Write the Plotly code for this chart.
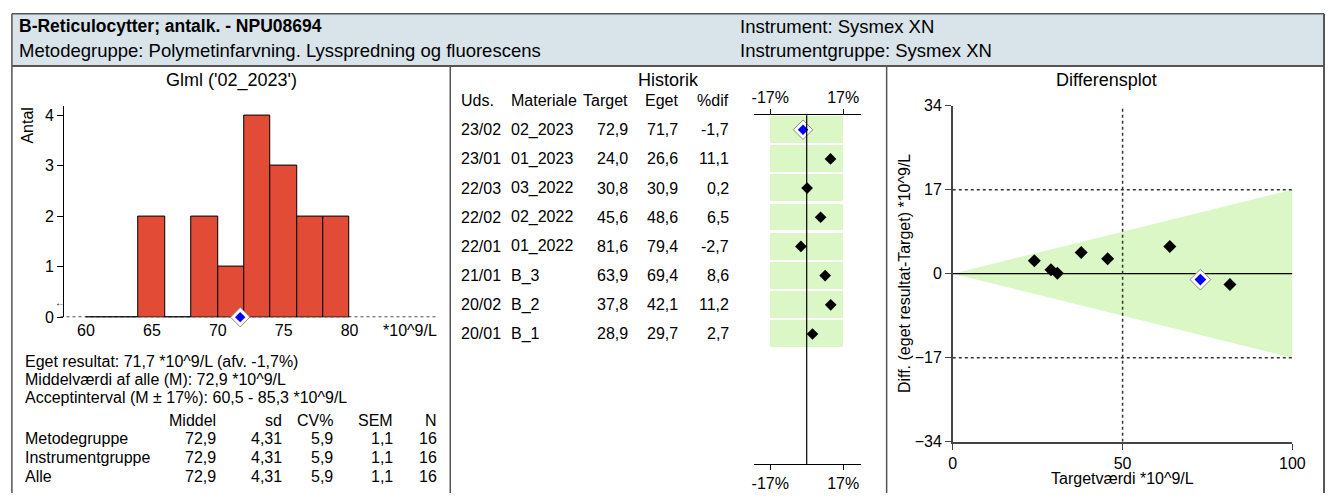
import plotly.graph_objects as go

W, H = 1338, 502
def px(x): return x / W
def py(y): return 1 - y / H

FONT = "Liberation Sans, Arial, sans-serif"

# ---------------- data ----------------
header_title = "B-Reticulocytter; antalk. - NPU08694"
header_method = "Metodegruppe: Polymetinfarvning. Lysspredning og fluorescens"
header_instr = "Instrument: Sysmex XN"
header_instr_group = "Instrumentgruppe: Sysmex XN"

hist_title = "Glml ('02_2023')"
hist_bin_start = [60, 62, 64, 66, 68, 70, 72, 74, 76, 78]
hist_bin_width = 2
hist_counts = [0, 0, 2, 0, 2, 1, 4, 3, 2, 2]
hist_xticks = [60, 65, 70, 75, 80]
hist_yticks = [0, 1, 2, 3, 4]
own_result = 71.7
group_mean = 72.9
limit_pct = 17
unit = "*10^9/L"

info_lines = [
    "Eget resultat: 71,7 *10^9/L (afv. -1,7%)",
    "Middelværdi af alle (M): 72,9 *10^9/L",
    "Acceptinterval (M ± 17%): 60,5 - 85,3 *10^9/L",
]
stats_header = ["Middel", "sd", "CV%", "SEM", "N"]
stats_groups = ["Metodegruppe", "Instrumentgruppe", "Alle"]
stats_mean = [72.9, 72.9, 72.9]
stats_sd = [4.31, 4.31, 4.31]
stats_cv = [5.9, 5.9, 5.9]
stats_sem = [1.1, 1.1, 1.1]
stats_n = [16, 16, 16]

histo_header = ["Uds.", "Materiale", "Target", "Eget", "%dif"]
histo_uds = ["23/02", "23/01", "22/03", "22/02", "22/01", "21/01", "20/02", "20/01"]
histo_mat = ["02_2023", "01_2023", "03_2022", "02_2022", "01_2022", "B_3", "B_2", "B_1"]
histo_target = [72.9, 24.0, 30.8, 45.6, 81.6, 63.9, 37.8, 28.9]
histo_eget = [71.7, 26.6, 30.9, 48.6, 79.4, 69.4, 42.1, 29.7]
histo_pdif = [-1.7, 11.1, 0.2, 6.5, -2.7, 8.6, 11.2, 2.7]

diff_xticks = [0, 50, 100]
diff_yticks = [-34, -17, 0, 17, 34]
diff_xmax = 100
diff_ymax = 34

# ---------------- helpers ----------------
def fmt(v, d=1):
    return f"{v:.{d}f}".replace(".", ",")

RED = "#E24B36"
GREEN = "#DAF7C5"
BORDER = "#555555"

fig = go.Figure()

# ---------------- histogram ----------------
centers = [s + hist_bin_width / 2 for s in hist_bin_start]
fig.add_trace(go.Bar(x=centers, y=hist_counts, width=hist_bin_width,
                     marker=dict(color=RED, line=dict(color="black", width=1)),
                     xaxis="x", yaxis="y", hoverinfo="skip"))
fig.add_trace(go.Scatter(x=[group_mean], y=[4.21], mode="markers+text", text=["M"],
                         textposition="middle center",
                         textfont=dict(size=11, family=FONT, color="black"),
                         marker=dict(symbol="circle-open", size=15,
                                     line=dict(color="black", width=1), color="black"),
                         xaxis="x", yaxis="y", cliponaxis=False, hoverinfo="skip"))
fig.add_trace(go.Scatter(x=[own_result], y=[0], mode="markers",
                         marker=dict(symbol="diamond", size=15, color="white",
                                     line=dict(color="#888888", width=1)),
                         xaxis="x", yaxis="y", cliponaxis=False, hoverinfo="skip"))
fig.add_trace(go.Scatter(x=[own_result], y=[0], mode="markers",
                         marker=dict(symbol="diamond", size=8, color="#0000FF",
                                     line=dict(width=0)),
                         xaxis="x", yaxis="y", cliponaxis=False, hoverinfo="skip"))

# ---------------- forest (Historik) ----------------
rows = list(range(len(histo_uds)))
fig.add_trace(go.Bar(y=rows, x=[2 * limit_pct] * len(rows), base=[-limit_pct] * len(rows),
                     orientation="h", width=0.92, marker=dict(color=GREEN, line=dict(width=0)),
                     xaxis="x2", yaxis="y2", hoverinfo="skip"))
fig.add_trace(go.Scatter(x=histo_pdif[1:], y=rows[1:], mode="markers",
                         marker=dict(symbol="diamond", size=9, color="black"),
                         xaxis="x2", yaxis="y2", hoverinfo="skip"))
fig.add_trace(go.Scatter(x=histo_pdif[:1], y=rows[:1], mode="markers",
                         marker=dict(symbol="diamond", size=15, color="white",
                                     line=dict(color="#888888", width=1)),
                         xaxis="x2", yaxis="y2", hoverinfo="skip"))
fig.add_trace(go.Scatter(x=histo_pdif[:1], y=rows[:1], mode="markers",
                         marker=dict(symbol="diamond", size=8, color="#0000FF"),
                         xaxis="x2", yaxis="y2", hoverinfo="skip"))
fig.add_trace(go.Scatter(x=histo_pdif[:1], y=rows[:1], mode="markers",
                         marker=dict(opacity=0), xaxis="x4", yaxis="y2",
                         hoverinfo="skip", showlegend=False))

# ---------------- difference plot ----------------
lim_y = diff_xmax * limit_pct / 100
fig.add_trace(go.Scatter(x=[0, diff_xmax, diff_xmax, 0], y=[0, lim_y, -lim_y, 0],
                         fill="toself", fillcolor=GREEN, mode="lines",
                         line=dict(width=0, color=GREEN),
                         xaxis="x3", yaxis="y3", hoverinfo="skip"))
fig.add_trace(go.Scatter(x=[0, diff_xmax], y=[0, 0], mode="lines",
                         line=dict(color="black", width=1.3),
                         xaxis="x3", yaxis="y3", hoverinfo="skip"))
diffs = [e - t for e, t in zip(histo_eget, histo_target)]
fig.add_trace(go.Scatter(x=histo_target[1:], y=diffs[1:], mode="markers",
                         marker=dict(symbol="diamond", size=10, color="black"),
                         xaxis="x3", yaxis="y3", hoverinfo="skip"))
fig.add_trace(go.Scatter(x=histo_target[:1], y=diffs[:1], mode="markers",
                         marker=dict(symbol="diamond", size=16, color="white",
                                     line=dict(color="#888888", width=1)),
                         xaxis="x3", yaxis="y3", hoverinfo="skip"))
fig.add_trace(go.Scatter(x=histo_target[:1], y=diffs[:1], mode="markers",
                         marker=dict(symbol="diamond", size=9, color="#0000FF"),
                         xaxis="x3", yaxis="y3", hoverinfo="skip"))

# ---------------- shapes ----------------
shapes = []
shapes.append(dict(type="rect", xref="paper", yref="paper", x0=px(8), x1=px(1337),
                   y0=py(60), y1=py(6), fillcolor="#D8E4EA", line=dict(width=0), layer="below"))
def pline(x0, y0, x1, y1, w=1.5, color=BORDER):
    shapes.append(dict(type="line", xref="paper", yref="paper", x0=px(x0), x1=px(x1),
                       y0=py(y0), y1=py(y1), line=dict(color=color, width=w)))
pline(8, 6, 1337, 6)
pline(8, 60, 1337, 60, w=2)
pline(8, 6, 8, 502)
pline(1337, 6, 1337, 502, w=2)
pline(452, 60, 452, 502)
pline(894, 60, 894, 502)

shapes.append(dict(type="line", xref="x domain", yref="y", x0=-0.01, x1=1, y0=0, y1=0,
                   line=dict(color="black", width=1.3, dash="dot"), layer="below"))
shapes.append(dict(type="line", xref="x", yref="y", x0=hist_bin_start[0],
                   x1=hist_bin_start[-1] + hist_bin_width, y0=0, y1=0,
                   line=dict(color="black", width=1.3), layer="below"))

shapes.append(dict(type="line", xref="x2", yref="y2 domain", x0=0, x1=0, y0=0, y1=1,
                   line=dict(color="black", width=1.2), layer="above"))

for yv in (lim_y, -lim_y):
    shapes.append(dict(type="line", xref="x3", yref="y3", x0=0, x1=diff_xmax, y0=yv, y1=yv,
                       line=dict(color="#333333", width=1.5, dash="dot"), layer="above"))
shapes.append(dict(type="line", xref="x3", yref="y3", x0=diff_xmax / 2, x1=diff_xmax / 2,
                   y0=-diff_ymax, y1=diff_ymax,
                   line=dict(color="#333333", width=1.5, dash="dot"), layer="above"))

# ---------------- annotations ----------------
ann = []
def text(x, y, s, size=16, anchor="left", bold=False, xref="paper", yref="paper", **kw):
    ann.append(dict(x=x if xref != "paper" else px(x),
                    y=y if yref != "paper" else py(y),
                    xref=xref, yref=yref, text=f"<b>{s}</b>" if bold else s,
                    showarrow=False, xanchor=anchor, yanchor="middle",
                    font=dict(size=size, family=FONT, color="black"), **kw))

text(13, 19, header_title, size=17.5, bold=True)
text(13, 44, header_method, size=18.5)
text(743, 19, header_instr, size=18.5)
text(743, 44, header_instr_group, size=18.5)

text(230, 75, hist_title, size=18, anchor="center")
text(24, 122, "Antal", size=16, anchor="center", textangle=-90)
text(441, 334, unit, size=16, anchor="right")
text(57, 305, "←", size=10, anchor="center")

for i, line in enumerate(info_lines):
    text(19, 366 + i * 18.6, line, size=16)
stat_cols = [217, 284, 335, 396, 441]
for x, h in zip(stat_cols, stats_header):
    text(x, 427, h, size=16, anchor="right")
for r, g in enumerate(stats_groups):
    yy = 446 + r * 19.5
    text(19, yy, g, size=16)
    vals = [fmt(stats_mean[r]), fmt(stats_sd[r], 2), fmt(stats_cv[r]), fmt(stats_sem[r]),
            str(stats_n[r])]
    for x, v in zip(stat_cols, vals):
        text(x, yy, v, size=16, anchor="right")

text(673, 75, "Historik", size=18, anchor="center")
hx = [(461, "left"), (511, "left"), (634, "right"), (685, "right"), (736, "right")]
for (x, a), h in zip(hx, histo_header):
    text(x, 96, h, size=16, anchor=a)
for i in rows:
    vals = [histo_uds[i], histo_mat[i], fmt(histo_target[i]), fmt(histo_eget[i]),
            fmt(histo_pdif[i])]
    for (x, a), v in zip(hx, vals):
        text(x, i, v, size=16, anchor=a, yref="y2")

text(1117, 75, "Differensplot", size=18, anchor="center")
text(1133, 487, "Targetværdi " + unit, size=16, anchor="center")
text(912, 275, "Diff. (eget resultat-Target) " + unit, size=16, anchor="center", textangle=-90)

# ---------------- layout ----------------
tickfont = dict(size=16, family=FONT, color="black")
fig.update_layout(
    width=W, height=H, margin=dict(l=0, r=0, t=0, b=0),
    paper_bgcolor="white", plot_bgcolor="rgba(0,0,0,0)",
    showlegend=False, bargap=0, barmode="overlay",
    font=dict(family=FONT, size=16, color="black"),
    shapes=shapes, annotations=ann,
    xaxis=dict(domain=[px(61), px(440)], range=[58.35, 86.74], tickvals=hist_xticks,
               showline=False, ticks="", showgrid=False, zeroline=False, tickfont=tickfont,
               anchor="y", ticklabelstandoff=2),
    yaxis=dict(domain=[py(320), py(101)], range=[0, 4.19], tickvals=hist_yticks,
               showline=True, linecolor="black", linewidth=1, ticks="outside", ticklen=6,
               tickcolor="black", showgrid=False, zeroline=False, tickfont=tickfont,
               anchor="x"),
    xaxis2=dict(domain=[px(760), px(868)], range=[-24.4, 25.3], side="top", anchor="y2",
                showline=True, linecolor="black", linewidth=1, ticks="outside", ticklen=5,
                tickcolor="black", tickvals=[-limit_pct, limit_pct],
                ticktext=[f"-{limit_pct}%", f"{limit_pct}%"], showgrid=False,
                zeroline=False, tickfont=tickfont),
    xaxis4=dict(overlaying="x2", range=[-24.4, 25.3], side="bottom", anchor="y2",
                showline=True, linecolor="black", linewidth=1, ticks="outside", ticklen=5,
                tickcolor="black", tickvals=[-limit_pct, limit_pct],
                ticktext=[f"-{limit_pct}%", f"{limit_pct}%"], showgrid=False,
                zeroline=False, tickfont=tickfont),
    yaxis2=dict(domain=[py(472), py(111)], range=[11.457, -0.497], visible=False,
                anchor="x2"),
    xaxis3=dict(domain=[px(961), px(1305)], range=[0, diff_xmax], tickvals=diff_xticks,
                anchor="y3", showline=True, linecolor="#444444", linewidth=1.5,
                ticks="outside", ticklen=6, tickcolor="#444444", showgrid=False,
                zeroline=False, tickfont=tickfont),
    yaxis3=dict(domain=[py(449), py(101)], range=[-diff_ymax, diff_ymax],
                tickvals=diff_yticks, anchor="x3", showline=True, linecolor="#444444",
                linewidth=1.5, ticks="outside", ticklen=6, tickcolor="#444444",
                showgrid=False, zeroline=False, tickfont=tickfont),
)

post = (
    "document.documentElement.style.margin='0';document.documentElement.style.padding='0';"
    "document.body.style.margin='0';document.body.style.padding='0';"
    "document.body.style.overflow='hidden';document.documentElement.style.overflow='hidden';"
    "var g=document.getElementById('{plot_id}');g.style.position='fixed';"
    "g.style.left='0px';g.style.top='0px';"
)
fig.write_html("out.html", post_script=post, config={"displayModeBar": False})
